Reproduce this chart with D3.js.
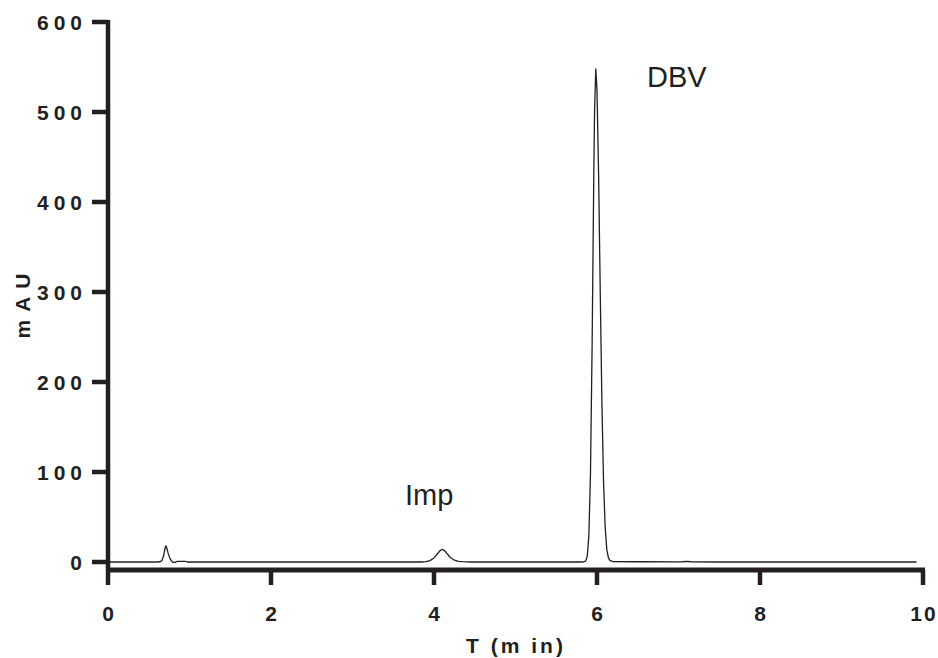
<!DOCTYPE html>
<html>
<head>
<meta charset="utf-8">
<script src="https://cdn.jsdelivr.net/npm/d3@7"></script>
<style>
  body { margin: 0; background: #fff; }
  svg text { font-family: "Liberation Sans", Arial, sans-serif; fill: #231f20; }
</style>
</head>
<body>
<div id="chart"></div>
<script>
// chromatogram trace, time in min / absorbance in mAU
const times = [0, 0.3, 0.6, 0.64, 0.66, 0.68, 0.70, 0.71, 0.72, 0.74, 0.76, 0.78, 0.80, 0.83, 0.85, 0.95, 0.97,
  1.5, 2.5, 3.5, 3.85, 3.90, 3.95, 4.00, 4.05, 4.08, 4.10, 4.12, 4.15, 4.20, 4.25, 4.30, 4.35, 4.45,
  5.0, 5.5, 5.80, 5.84, 5.86, 5.88, 5.90, 5.92, 5.94, 5.96, 5.97, 5.985, 6.00, 6.02, 6.04, 6.06, 6.08,
  6.10, 6.12, 6.14, 6.16, 6.20, 6.5, 7.0, 7.05, 7.10, 7.15, 7.5, 8.5, 9.92];
const mAU = [0, 0, 0, 0.3, 1.5, 6, 15, 18, 16, 9, 4, 1, -0.5, -0.3, 0.8, 0.8, 0,
  0, 0, 0, 0, 0.5, 1.5, 4.5, 10, 13, 14, 13.3, 10.5, 5, 2, 0.8, 0.4, 0,
  0, 0, 0, 0.3, 1, 6, 29, 98, 240, 425, 500, 548, 524, 429, 299, 178, 90,
  39, 14, 4.5, 1.5, 0.5, 0.3, 0.2, 0.3, 0.7, 0.3, 0, 0, 0];

const xTicks = [0, 2, 4, 6, 8, 10];
const yTicks = [0, 100, 200, 300, 400, 500, 600];
const peakNames = ["Imp", "DBV"];
const xLabel = "T (m in)";
const yLabel = "mAU";

const width = 938, height = 658;
const ink = "#231f20";

const svg = d3.select("#chart").append("svg")
  .attr("width", width)
  .attr("height", height);

const x = d3.scaleLinear().domain([0, 10]).range([108, 923]);
const y = d3.scaleLinear().domain([0, 600]).range([562, 22]);
const xAxisY = 570;

// y axis
svg.append("line")
  .attr("x1", x(0)).attr("x2", x(0))
  .attr("y1", y(600) - 2).attr("y2", xAxisY)
  .attr("stroke", ink).attr("stroke-width", 4.5);

svg.selectAll(".ytick")
  .data(yTicks)
  .enter()
  .append("line")
  .attr("x1", x(0) - 16).attr("x2", x(0))
  .attr("y1", d => y(d)).attr("y2", d => y(d))
  .attr("stroke", ink).attr("stroke-width", 4.5);

svg.selectAll(".ylab")
  .data(yTicks)
  .enter()
  .append("text")
  .attr("x", 82 + 5)
  .attr("y", d => y(d) + 8)
  .attr("text-anchor", "end")
  .style("font-size", "21px")
  .style("font-weight", "bold")
  .style("letter-spacing", "5px")
  .text(d => d);

// x axis, offset below the baseline
svg.append("line")
  .attr("x1", x(0) - 2).attr("x2", x(10) + 2)
  .attr("y1", xAxisY).attr("y2", xAxisY)
  .attr("stroke", ink).attr("stroke-width", 5);

svg.selectAll(".xtick")
  .data(xTicks)
  .enter()
  .append("line")
  .attr("x1", d => x(d)).attr("x2", d => x(d))
  .attr("y1", xAxisY).attr("y2", 585)
  .attr("stroke", ink).attr("stroke-width", 4.5);

svg.selectAll(".xlab")
  .data(xTicks)
  .enter()
  .append("text")
  .attr("x", d => x(d) + 1)
  .attr("y", 621)
  .attr("text-anchor", "middle")
  .style("font-size", "21px")
  .style("font-weight", "bold")
  .style("letter-spacing", "2px")
  .text(d => d);

// axis titles
svg.append("text")
  .attr("x", 516)
  .attr("y", 653)
  .attr("text-anchor", "middle")
  .style("font-size", "21px")
  .style("font-weight", "bold")
  .style("letter-spacing", "3px")
  .text(xLabel);

svg.append("text")
  .attr("transform", "translate(30,302) rotate(-90)")
  .attr("text-anchor", "middle")
  .style("font-size", "21px")
  .style("font-weight", "bold")
  .style("letter-spacing", "8px")
  .text(yLabel);

// trace
const line = d3.line()
  .x((d, i) => x(times[i]))
  .y(d => y(d));

svg.append("path")
  .datum(mAU)
  .attr("d", line)
  .attr("fill", "none")
  .attr("stroke", ink)
  .attr("stroke-width", 1.3)
  .attr("stroke-linejoin", "round");

// peak labels
svg.append("text")
  .attr("x", 405).attr("y", 505)
  .style("font-size", "29px")
  .text(peakNames[0]);

svg.append("text")
  .attr("x", 647).attr("y", 87)
  .style("font-size", "29px")
  .text(peakNames[1]);
</script>
</body>
</html>
